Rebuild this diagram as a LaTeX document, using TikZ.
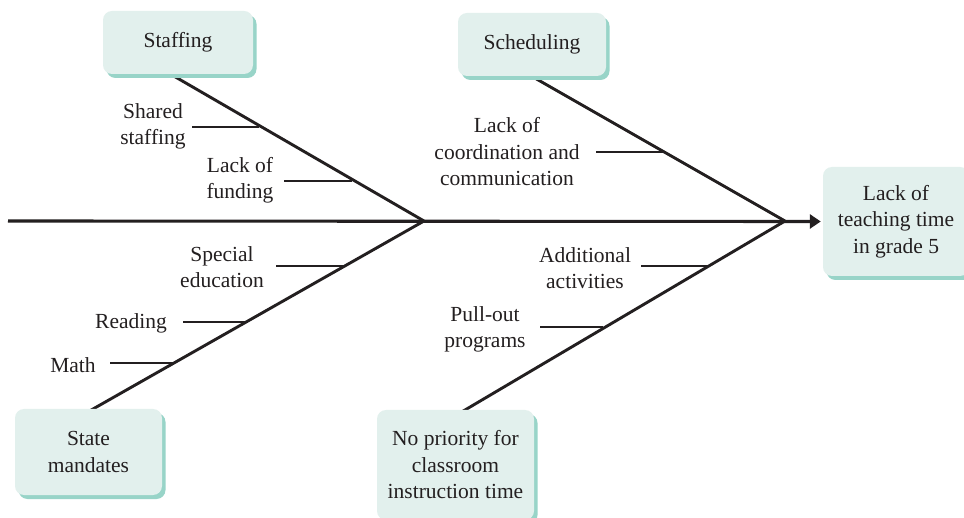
\documentclass[tikz,border=0pt]{standalone}
\usepackage{fontspec}
\setmainfont{Liberation Serif}
\usetikzlibrary{arrows.meta,shadows,backgrounds,calc}
\definecolor{boxfill}{RGB}{226,240,237}
\definecolor{boxshadow}{RGB}{152,212,200}
\definecolor{ink}{RGB}{35,31,32}
\tikzset{
  lbl/.style={align=center, text=ink, font=\fontsize{21.5}{26.5}\selectfont, inner sep=0pt},
  cbox/.style={lbl, fill=boxfill, rounded corners=9pt, draw=none,
    general shadow={shadow xshift=3.5pt, shadow yshift=-4pt, fill=boxshadow}},
  bone/.style={line width=2.9pt, draw=ink},
  rib/.style={line width=2.9pt, draw=ink}
}
\begin{document}
\begin{tikzpicture}[x=1pt,y=-1pt]
\clip (0,0) rectangle (964,518);
% boxes
\node[cbox, minimum width=150pt, minimum height=63pt] (staff) at (178,42.5) {Staffing};
\node[cbox, minimum width=148pt, minimum height=63pt] (sched) at (532,44.5) {Scheduling};
\node[cbox, minimum width=147pt, minimum height=86pt] (state) at (88.5,452) {State\\mandates};
\node[cbox, minimum width=157pt, minimum height=110pt] (nopri) at (455.5,465) {No priority for\\classroom\\instruction time};
\node[cbox, minimum width=146pt, minimum height=109pt] (effect) at (896,221.5) {Lack of\\teaching time\\in grade 5};
% junctions
\coordinate (lj) at (424,221);
\coordinate (rj) at (785,221);
\coordinate (tail) at (8,221);
% bone exit points at box edges
\coordinate (e1) at (172,75);
\coordinate (e2) at (533,77);
\coordinate (e3) at (93,409);
\coordinate (e4) at (465,410);
% rib labels
\node[lbl] (shared) at (153,126.5) {Shared\\staffing};
\node[lbl] (funding) at (240,180.5) {Lack of\\funding};
\node[lbl] (coord) at (507,152) {Lack of\\coordination and\\communication};
\node[lbl] (special) at (222,267) {Special\\education};
\node[lbl] (reading) at (131,323) {Reading};
\node[lbl] (math) at (73,365) {Math};
\node[lbl] (addl) at (585,268) {Additional\\activities};
\node[lbl] (pull) at (485,329.5) {Pull-out\\programs};
% rib ends
\coordinate (r1a) at (192,127); \coordinate (r1b) at (259,127);
\coordinate (r2a) at (284,181); \coordinate (r2b) at (352,181);
\coordinate (r3a) at (596,152); \coordinate (r3b) at (664,152);
\coordinate (r4a) at (276,266); \coordinate (r4b) at (344,266);
\coordinate (r5a) at (183,322); \coordinate (r5b) at (247,322);
\coordinate (r6a) at (110,363); \coordinate (r6b) at (174,363);
\coordinate (r7a) at (641,266); \coordinate (r7b) at (707,266);
\coordinate (r8a) at (540,327); \coordinate (r8b) at (603,327);
\begin{scope}[on background layer]
\fill[white] (0,0) rectangle (964,518);
\draw[bone, line width=3.1pt, -{Triangle[length=11pt,width=14pt]}] (tail) -- ([xshift=-2pt]effect.west);
\draw[bone] ($(lj)!1.05!(e1)$) -- (lj);
\draw[bone] ($(rj)!1.05!(e2)$) -- (rj);
\draw[bone] ($(lj)!1.04!(e3)$) -- (lj);
\draw[bone] ($(rj)!1.04!(e4)$) -- (rj);
\end{scope}
\draw[rib] (r1a) -- (r1b);
\draw[rib] (r2a) -- (r2b);
\draw[rib] (r3a) -- (r3b);
\draw[rib] (r4a) -- (r4b);
\draw[rib] (r5a) -- (r5b);
\draw[rib] (r6a) -- (r6b);
\draw[rib] (r7a) -- (r7b);
\draw[rib] (r8a) -- (r8b);
\end{tikzpicture}
\end{document}
